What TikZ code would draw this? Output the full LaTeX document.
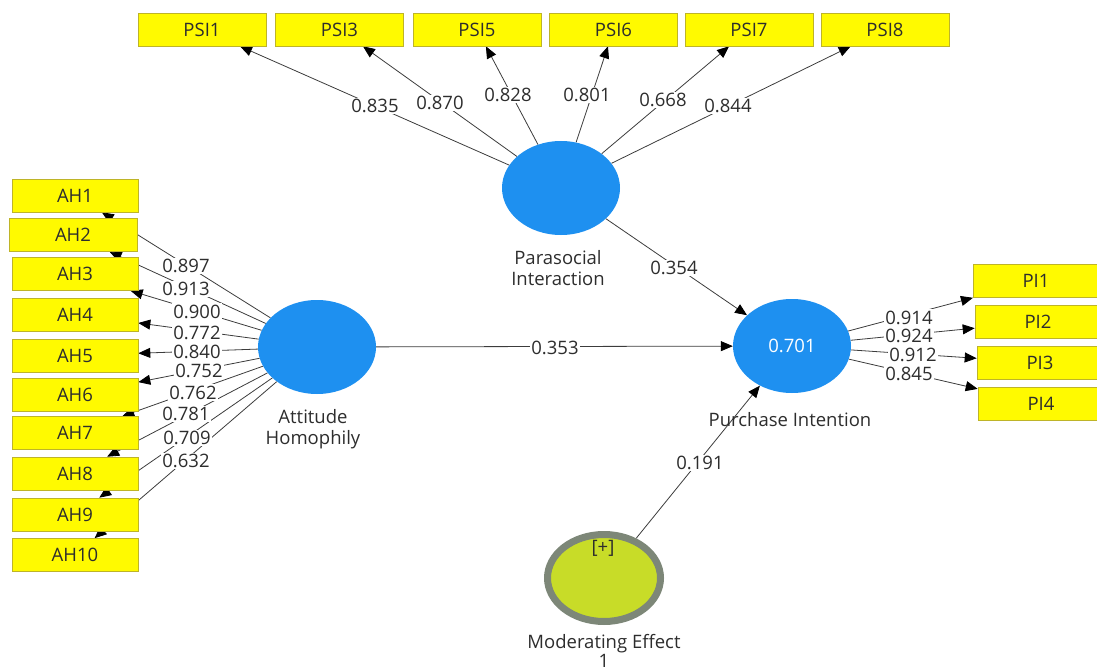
\documentclass[tikz,border=0pt]{standalone}
\usepackage{fontspec}
\setmainfont{Open Sans}
\usetikzlibrary{arrows.meta,shapes.geometric}
\definecolor{indyellow}{RGB}{255,250,0}
\definecolor{indborder}{RGB}{190,180,40}
\definecolor{lvblue}{RGB}{30,144,240}
\definecolor{modfill}{RGB}{200,220,40}
\definecolor{modring}{RGB}{125,135,120}
\definecolor{linegray}{RGB}{60,60,60}
\definecolor{txt}{RGB}{45,45,45}
\pgfdeclarelayer{edges}
\pgfsetlayers{edges,main}

\begin{document}
\begin{tikzpicture}[x=1pt,y=-1pt,
  font=\fontsize{18.5}{21}\selectfont,
  ind/.style={rectangle, fill=indyellow, draw=indborder, line width=0.6pt,
    minimum width=126pt, minimum height=33pt, inner sep=0pt, text=txt},
  lv/.style={ellipse, fill=lvblue, minimum width=118pt, minimum height=94pt, inner sep=0pt},
  link/.style={draw=linegray, line width=0.8pt,
    -{Triangle[length=12pt,width=10pt,color=black]}},
  wt/.style={fill=white, inner sep=1.5pt, text=txt},
  lvcaption/.style={align=center, text=txt},
]
\useasboundingbox (0,0) rectangle (1097,671);

% latent variables
\node[lv] (psi) at (561,188) {};
\node[lv] (ah) at (317,347) {};
\node[lv, text=white] (pi) at (792,346) {0.701};
\node[ellipse, fill=modfill, draw=modring, line width=7pt,
  minimum width=113pt, minimum height=87pt, inner sep=0pt] (mod) at (604,578) {};
\node[text=txt] (plus) at (603,548) {[+]};

% captions of the latent variables
\node[lvcaption] (psicap) at (558,268) {Parasocial\\Interaction};
\node[lvcaption] (ahcap) at (313,429) {Attitude\\Homophily};
\node[lvcaption] (picap) at (790,420) {Purchase Intention};
\node[lvcaption, font=\fontsize{18.5}{17}\selectfont] (modcap) at (604,651) {Moderating Effect\\1};

% indicators of Parasocial Interaction
\node[ind, minimum width=128pt] (psi1) at (202,29.5) {PSI1};
\node[ind, minimum width=128pt] (psi3) at (339.5,29.5) {PSI3};
\node[ind, minimum width=128pt] (psi5) at (477,29.5) {PSI5};
\node[ind, minimum width=128pt] (psi6) at (613.5,29.5) {PSI6};
\node[ind, minimum width=128pt] (psi7) at (749,29.5) {PSI7};
\node[ind, minimum width=128pt] (psi8) at (885,29.5) {PSI8};

% indicators of Attitude Homophily
\node[ind] (ah1) at (75,195.5) {AH1};
\node[ind, minimum width=128pt] (ah2) at (73,235) {AH2};
\node[ind] (ah3) at (75,274) {AH3};
\node[ind] (ah4) at (75,314.5) {AH4};
\node[ind] (ah5) at (75,355.5) {AH5};
\node[ind] (ah6) at (75,394.5) {AH6};
\node[ind] (ah7) at (75,433) {AH7};
\node[ind] (ah8) at (75,473.5) {AH8};
\node[ind] (ah9) at (75,514.5) {AH9};
\node[ind] (ah10) at (75,555) {AH10};

% indicators of Purchase Intention
\node[ind] (pi1) at (1036,281) {PI1};
\node[ind] (pi2) at (1038,322) {PI2};
\node[ind] (pi3) at (1040,362.5) {PI3};
\node[ind] (pi4) at (1041,403.5) {PI4};

\begin{pgfonlayer}{edges}
  % outer loadings
  \foreach \i in {1,3,5,6,7,8} {\draw[link] (psi) -- (psi\i);}
  \foreach \i in {1,...,10} {\draw[link] (ah) -- (ah\i);}
  \foreach \i in {1,...,4} {\draw[link] (pi) -- (pi\i);}
  % structural paths
  \draw[link] (psi) -- (pi);
  \draw[link] (ah) -- (pi);
  \draw[link] (mod) -- (pi);

  % path coefficients
  \node[wt] (w1) at (375,106) {0.835};
  \node[wt] (w2) at (440,103) {0.870};
  \node[wt] (w3) at (508,95) {0.828};
  \node[wt] (w4) at (587,95) {0.801};
  \node[wt] (w5) at (663,100) {0.668};
  \node[wt] (w6) at (728,106) {0.844};

  \node[wt] (a1) at (186,266) {0.897};
  \node[wt] (a2) at (186,289) {0.913};
  \node[wt] (a3) at (197,311.5) {0.900};
  \node[wt] (a4) at (197,332.5) {0.772};
  \node[wt] (a5) at (197,352) {0.840};
  \node[wt] (a6) at (199,371) {0.752};
  \node[wt] (a7) at (193,392.5) {0.762};
  \node[wt] (a8) at (186,414) {0.781};
  \node[wt] (a9) at (187,438) {0.709};
  \node[wt] (a10) at (186,461) {0.632};

  \node[wt] (p1) at (909,317.5) {0.914};
  \node[wt] (p2) at (909,336) {0.924};
  \node[wt] (p3) at (913,355) {0.912};
  \node[wt] (p4) at (909,374) {0.845};

  \node[wt] (s1) at (674,268) {0.354};
  \node[wt] (s2) at (555,348) {0.353};
  \node[wt] (s3) at (700,463) {0.191};
\end{pgfonlayer}
\end{tikzpicture}
\end{document}
